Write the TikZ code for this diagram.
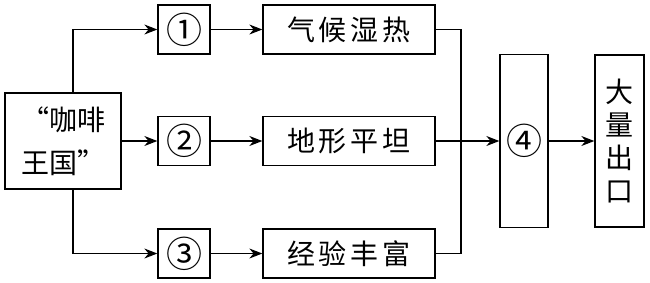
\documentclass[tikz,border=0pt]{standalone}
\usepackage{fontspec}
\newfontfamily\cjk{Noto Sans CJK SC}
\usetikzlibrary{arrows.meta}
\begin{document}
\begin{tikzpicture}[x=1pt,y=-1pt,
  box/.style={draw, line width=1.3pt, inner sep=0pt, align=center},
  conn/.style={line width=1.3pt},
  arr/.style={conn, -{Stealth[length=13pt,width=10pt]}},
  txt/.style={font=\cjk\fontsize{28}{33}\selectfont},
  num/.style={font=\cjk\fontsize{36}{36}\selectfont}]
\useasboundingbox (0,0) rectangle (650,282);
\node[box, txt, minimum width=116pt, minimum height=96pt] (src) at (63,141) {“咖啡\\[10pt]王国”};
\node[box, num, minimum width=52pt, minimum height=49pt] (n1) at (184,29.5) {①};
\node[box, num, minimum width=52pt, minimum height=49pt] (n2) at (184,141) {②};
\node[box, num, minimum width=52pt, minimum height=49pt] (n3) at (184,253.5) {③};
\node[box, txt, minimum width=172pt, minimum height=49pt] (t1) at (349,29.5) {气\hspace{4pt}候\hspace{4pt}湿\hspace{4pt}热};
\node[box, txt, minimum width=172pt, minimum height=49pt] (t2) at (349,141) {地\hspace{4pt}形\hspace{4pt}平\hspace{4pt}坦};
\node[box, txt, minimum width=172pt, minimum height=49pt] (t3) at (349,253.5) {经\hspace{4pt}验\hspace{4pt}丰\hspace{4pt}富};
\node[box, num, minimum width=48pt, minimum height=173pt] (n4) at (524,141) {④};
\node[box, txt, minimum width=49pt, minimum height=172pt] (out) at (619.5,141) {大\\量\\出\\口};
\coordinate (j) at (461,141);
\draw[arr] ([xshift=10pt]src.north) |- (n1.west);
\draw[arr] (src.east) -- (n2.west);
\draw[arr] ([xshift=10pt]src.south) |- (n3.west);
\draw[arr] (n1.east) -- (t1.west);
\draw[arr] (n2.east) -- (t2.west);
\draw[arr] (n3.east) -- (t3.west);
\draw[conn] (t1.east) -| (j);
\draw[conn] (t3.east) -| (j);
\draw[arr] (t2.east) -- (n4.west);
\draw[arr] (n4.east) -- (out.west);
\end{tikzpicture}
\end{document}
